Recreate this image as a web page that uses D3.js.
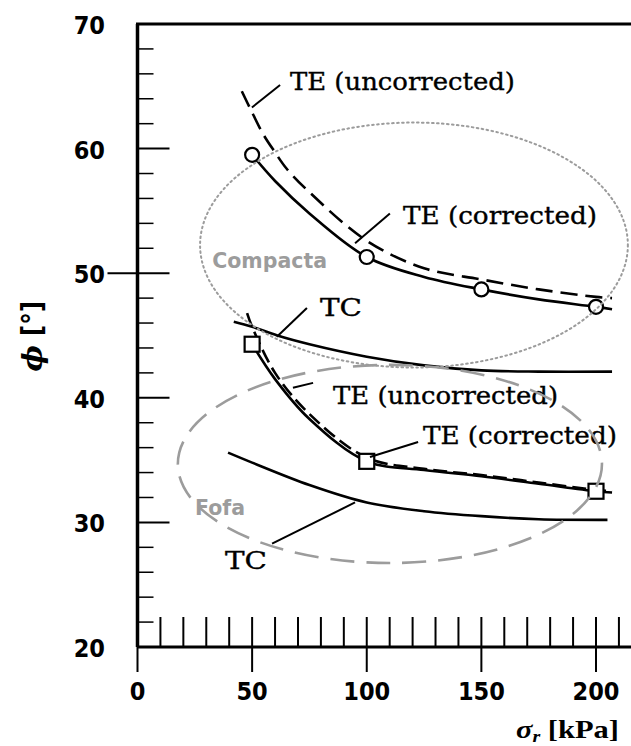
<!DOCTYPE html>
<html>
<head>
<meta charset="utf-8">
<script src="https://cdn.jsdelivr.net/npm/d3@7"></script>
<style>
  body { margin: 0; background: #fff; }
  svg { display: block; }
</style>
</head>
<body>
<svg id="chart" width="631" height="746"></svg>
<script>
// ---- data: friction angle phi [deg] vs confining stress sigma_r [kPa] ----
const sigmaTickLabels = [0, 50, 100, 150, 200];
const phiTickLabels = [20, 30, 40, 50, 60, 70];

// Dense sand ("Compacta")
const compTeCorrSigma = [50, 60, 75, 100, 125, 150, 175, 200, 207];
const compTeCorrPhi   = [59.5, 57.4, 54.8, 51.3, 49.7, 48.7, 47.9, 47.3, 47.1];
const compTeUncSigma  = [45.5, 50, 55, 60, 65, 75, 100, 125, 150, 175, 200, 207];
const compTeUncPhi    = [64.6, 62.9, 61.1, 59.7, 58.4, 56.5, 52.6, 50.4, 49.5, 48.7, 48.1, 48.0];
const compTcSigma     = [42, 50, 61, 75, 100, 125, 150, 175, 207];
const compTcPhi       = [46.1, 45.7, 45.0, 44.3, 43.3, 42.6, 42.2, 42.1, 42.1];
const compTestSigma   = [50, 100, 150, 200];
const compTestPhi     = [59.5, 51.3, 48.7, 47.3];

// Loose sand ("Fofa")
const fofaTeCorrSigma = [50, 60, 75, 100, 125, 150, 175, 200, 207];
const fofaTeCorrPhi   = [44.3, 41.5, 38.3, 34.9, 34.2, 33.7, 33.1, 32.5, 32.4];
const fofaTeUncSigma  = [47.8, 50, 60, 75, 100, 125, 150, 175, 200, 207];
const fofaTeUncPhi    = [46.8, 45.7, 42.0, 38.7, 35.2, 34.3, 33.8, 33.2, 32.6, 32.5];
const fofaTcSigma     = [39.5, 50, 75, 100, 125, 150, 175, 205];
const fofaTcPhi       = [35.6, 34.8, 33.0, 31.6, 30.9, 30.5, 30.25, 30.2];
const fofaTestSigma   = [50, 100, 200];
const fofaTestPhi     = [44.3, 34.9, 32.5];

// ---- layout ----
const svg = d3.select("#chart");
const W = 631, H = 746;
const x = d3.scaleLinear().domain([0, 200]).range([137.5, 596]);
const y = d3.scaleLinear().domain([20, 70]).range([647, 24]);
const sigmaMax = x.invert(W);

svg.append("rect").attr("width", W).attr("height", H).attr("fill", "#fff");

const tickFont = "'DejaVu Sans Condensed', 'DejaVu Sans', sans-serif";
const serif = "'DejaVu Serif', 'Liberation Serif', serif";

// ---- frame ----
const frame = svg.append("g").attr("stroke", "#000").attr("fill", "none");
frame.append("line")
  .attr("x1", x(0)).attr("x2", x(0)).attr("y1", y(70)).attr("y2", y(20))
  .attr("stroke-width", 3.5);
frame.append("line")
  .attr("x1", x(0) - 1.5).attr("x2", W).attr("y1", y(70)).attr("y2", y(70))
  .attr("stroke-width", 3);
frame.append("line")
  .attr("x1", x(0)).attr("x2", W).attr("y1", y(20)).attr("y2", y(20))
  .attr("stroke-width", 3);

// ---- y ticks (inward, minor every 2 deg) ----
const yTicks = d3.range(22, 70, 2);
frame.selectAll(".ytick").data(yTicks).join("line")
  .attr("x1", d => d === 50 ? x(0) - 30 : x(0))
  .attr("x2", d => x(0) + (d % 10 === 0 ? 32 : 16))
  .attr("y1", d => y(d)).attr("y2", d => y(d))
  .attr("stroke-width", d => d % 10 === 0 ? 2 : 1.5);

svg.selectAll(".ylab").data(phiTickLabels).join("text")
  .attr("x", 105).attr("y", d => y(d) + 10)
  .attr("text-anchor", "end")
  .attr("font-family", tickFont).attr("font-stretch", "condensed")
  .attr("font-weight", "bold")
  .attr("font-size", 25).attr("fill", "#000")
  .text(d => d);

// ---- x ticks (upward every 10 kPa, majors also downward) ----
const xTicks = d3.range(10, sigmaMax, 10);
frame.selectAll(".xtick").data(xTicks).join("line")
  .attr("x1", d => x(d)).attr("x2", d => x(d))
  .attr("y1", y(20)).attr("y2", y(20) - 30)
  .attr("stroke-width", 2);
frame.selectAll(".xmajor").data(sigmaTickLabels).join("line")
  .attr("x1", d => x(d)).attr("x2", d => x(d))
  .attr("y1", y(20)).attr("y2", y(20) + 25)
  .attr("stroke-width", 2);

svg.selectAll(".xlab").data(sigmaTickLabels).join("text")
  .attr("x", d => x(d)).attr("y", 700)
  .attr("text-anchor", "middle")
  .attr("font-family", tickFont).attr("font-stretch", "condensed")
  .attr("font-weight", "bold")
  .attr("font-size", 25).attr("fill", "#000")
  .text(d => d);

// ---- axis titles ----
const yTitle = svg.append("text")
  .attr("transform", "translate(42,336) rotate(-90)")
  .attr("text-anchor", "middle").attr("font-size", 28).attr("fill", "#000")
  .attr("font-weight", "bold");
yTitle.append("tspan").attr("font-family", serif).attr("font-style", "italic").text("ϕ");
yTitle.append("tspan").attr("font-family", tickFont).attr("font-stretch", "condensed").text(" [°]");

const xTitle = svg.append("text")
  .attr("x", 516).attr("y", 738)
  .attr("textLength", 103).attr("lengthAdjust", "spacingAndGlyphs")
  .attr("font-family", "'Liberation Serif', serif").attr("font-weight", "bold")
  .attr("font-size", 26).attr("fill", "#000");
xTitle.append("tspan").attr("font-style", "italic").text("σ");
xTitle.append("tspan").attr("font-style", "italic").attr("font-size", 17).attr("dy", 4).text("r");
xTitle.append("tspan").attr("dy", -4).text(" [kPa]");

// ---- curves ----
const line = d3.line()
  .x(d => x(d[0])).y(d => y(d[1]))
  .curve(d3.curveCatmullRom.alpha(0.5));

const curves = [
  { s: compTeUncSigma,  p: compTeUncPhi,  dash: "17 8" },
  { s: compTeCorrSigma, p: compTeCorrPhi, dash: null },
  { s: compTcSigma,     p: compTcPhi,     dash: null },
  { s: fofaTeUncSigma,  p: fofaTeUncPhi,  dash: "14 6" },
  { s: fofaTeCorrSigma, p: fofaTeCorrPhi, dash: null },
  { s: fofaTcSigma,     p: fofaTcPhi,     dash: null }
];
svg.append("g").selectAll("path").data(curves).join("path")
  .attr("d", c => line(d3.zip(c.s, c.p)))
  .attr("fill", "none").attr("stroke", "#000")
  .attr("stroke-width", 2.6)
  .attr("stroke-dasharray", c => c.dash);

// ---- test points ----
svg.append("g").selectAll("circle").data(d3.zip(compTestSigma, compTestPhi)).join("circle")
  .attr("cx", d => x(d[0])).attr("cy", d => y(d[1])).attr("r", 7)
  .attr("fill", "#fff").attr("stroke", "#000").attr("stroke-width", 2.2);
const sq = 15;
svg.append("g").selectAll("rect").data(d3.zip(fofaTestSigma, fofaTestPhi)).join("rect")
  .attr("x", d => x(d[0]) - sq / 2).attr("y", d => y(d[1]) - sq / 2)
  .attr("width", sq).attr("height", sq)
  .attr("fill", "#fff").attr("stroke", "#000").attr("stroke-width", 2.2);

// ---- curve labels with leader lines (sigma, phi units) ----
const notes = [
  { text: "TE (uncorrected)", at: [66.5, 64.7], w: 225, from: [62.2, 65.1], to: [49.9, 63.3] },
  { text: "TE (corrected)",   at: [115.8, 53.95], w: 194, from: [110.1, 54.8], to: [94.9, 52.4] },
  { text: "TC",               at: [79.6, 46.6], w: 42, from: [73.9, 47.2], to: [60.8, 44.9] },
  { text: "TE (uncorrected)", at: [85.3, 39.5], w: 225, from: [76.6, 41.2], to: [67.8, 40.8] },
  { text: "TE (corrected)",   at: [124.5, 36.3], w: 194, from: [122.4, 36.45], to: [101.4, 35.25] },
  { text: "TC",               at: [38.2, 26.3], w: 42, from: [58.7, 28.3], to: [94.9, 31.6] }
];
svg.append("g").selectAll("line").data(notes).join("line")
  .attr("x1", d => x(d.from[0])).attr("y1", d => y(d.from[1]))
  .attr("x2", d => x(d.to[0])).attr("y2", d => y(d.to[1]))
  .attr("stroke", "#000").attr("stroke-width", 2);
svg.append("g").selectAll("text").data(notes).join("text")
  .attr("x", d => x(d.at[0])).attr("y", d => y(d.at[1]))
  .attr("textLength", d => d.w).attr("lengthAdjust", "spacingAndGlyphs")
  .attr("font-family", serif).attr("font-size", 24).attr("fill", "#000")
  .attr("stroke", "#000").attr("stroke-width", 0.35)
  .text(d => d.text);

// ---- density groups ----
const gray = "#9c9c9c";
const groups = [
  { name: "Compacta", c: [120.6, 52.26], rs: 93.3, rp: 9.83, dash: "1.6 3.4", lab: [32.6, 50.4] },
  { name: "Fofa",     c: [110.1, 34.69], rs: 92.5, rp: 7.95, dash: "24 12",   lab: [25.1, 30.6] }
];
svg.append("g").selectAll("ellipse").data(groups).join("ellipse")
  .attr("cx", g => x(g.c[0])).attr("cy", g => y(g.c[1]))
  .attr("rx", g => x(g.rs) - x(0)).attr("ry", g => y(0) - y(g.rp))
  .attr("fill", "none").attr("stroke", gray)
  .attr("stroke-width", g => g.name === "Fofa" ? 2.6 : 2)
  .attr("stroke-linecap", g => g.name === "Fofa" ? "butt" : "round")
  .attr("stroke-dasharray", g => g.dash);
svg.append("g").selectAll("text").data(groups).join("text")
  .attr("x", g => x(g.lab[0])).attr("y", g => y(g.lab[1]))
  .attr("font-family", "'DejaVu Sans', sans-serif").attr("font-weight", "bold")
  .attr("font-size", 20.5).attr("fill", gray)
  .text(g => g.name);
</script>
</body>
</html>
